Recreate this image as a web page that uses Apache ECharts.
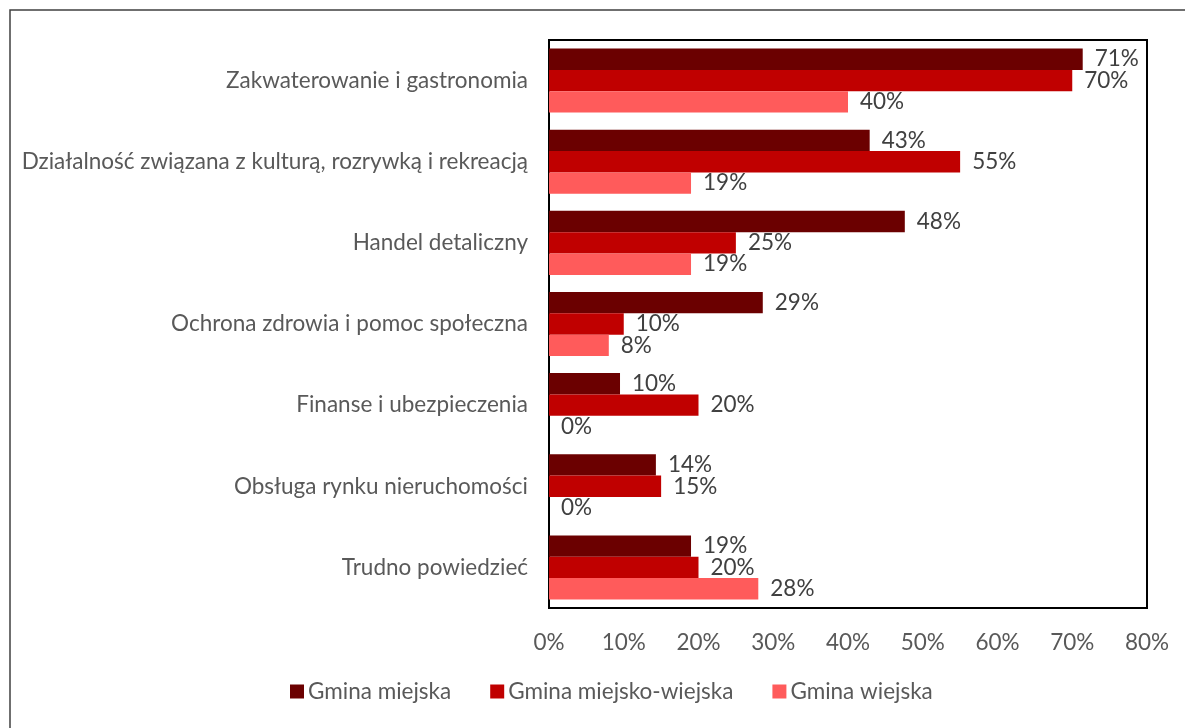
<!DOCTYPE html>
<html>
<head>
<meta charset="utf-8">
<script src="https://cdn.jsdelivr.net/npm/echarts@6/dist/echarts.min.js"></script>
<style>
  html, body { margin: 0; padding: 0; background: #fff; }
  #chart { width: 1185px; height: 728px; }
</style>
</head>
<body>
<div id="chart"></div>
<script>
// kategorie (od góry)
const categories = [
    'Zakwaterowanie i gastronomia',
    'Działalność związana z kulturą, rozrywką i rekreacją',
    'Handel detaliczny',
    'Ochrona zdrowia i pomoc społeczna',
    'Finanse i ubezpieczenia',
    'Obsługa rynku nieruchomości',
    'Trudno powiedzieć'
]
const seriesNames = ['Gmina miejska', 'Gmina miejsko-wiejska', 'Gmina wiejska']
// wartości w %
const miejska = [71.4, 42.9, 47.6, 28.6, 9.5, 14.3, 19.0]
const miejskoWiejska = [70, 55, 25, 10, 20, 15, 20]
const wiejska = [40, 19, 19, 8, 0, 0, 28]
const xTicks = [0, 10, 20, 30, 40, 50, 60, 70, 80]

const colors = ['#6b0000', '#c00000', '#ff5b5b']
const font = 'Lato, "Noto Sans", sans-serif'
const fs = 22.5

const chart = echarts.init(document.getElementById('chart'))

function makeSeries(name, data, color) {
    return {
        type: 'bar',
        name: name,
        data: data,
        barGap: '0%',
        barCategoryGap: '21%',
        itemStyle: { color: color },
        label: {
            show: true,
            position: 'right',
            distance: 12,
            color: '#404040',
            fontFamily: font,
            fontSize: fs,
            formatter: p => Math.round(p.value) + '%'
        }
    }
}

const option = {
    animation: false,
    textStyle: { fontFamily: font },
    graphic: [{
        type: 'rect',
        shape: { x: 10, y: 10, width: 1300, height: 900 },
        style: { fill: 'none', stroke: '#404040', lineWidth: 1.5 },
        silent: true
    }],
    grid: {
        left: 549,
        top: 40,
        width: 598,
        height: 568,
        show: true,
        borderColor: '#000',
        borderWidth: 2,
        backgroundColor: 'transparent'
    },
    xAxis: {
        type: 'value',
        min: xTicks[0],
        max: xTicks[xTicks.length - 1],
        interval: 10,
        axisLine: { show: false },
        axisTick: { show: false },
        splitLine: { show: false },
        axisLabel: {
            margin: 23,
            color: '#595959',
            fontFamily: font,
            fontSize: fs,
            formatter: v => v + '%'
        }
    },
    yAxis: {
        type: 'category',
        inverse: true,
        data: categories,
        axisLine: { show: false },
        axisTick: { show: false },
        axisLabel: {
            margin: 21,
            color: '#595959',
            fontFamily: font,
            fontSize: fs
        }
    },
    legend: {
        data: seriesNames,
        left: 290,
        top: 680,
        padding: 0,
        icon: 'rect',
        itemWidth: 14,
        itemHeight: 14,
        itemGap: 39,
        textStyle: {
            color: '#595959',
            fontFamily: font,
            fontSize: fs,
            padding: [0, 0, 0, -1]
        }
    },
    series: [
        makeSeries(seriesNames[0], miejska, colors[0]),
        makeSeries(seriesNames[1], miejskoWiejska, colors[1]),
        makeSeries(seriesNames[2], wiejska, colors[2])
    ]
}

chart.setOption(option)
</script>
</body>
</html>
